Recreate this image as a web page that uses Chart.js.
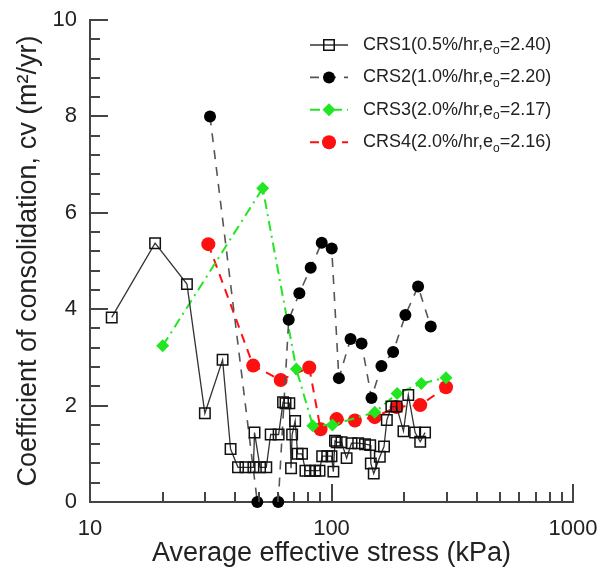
<!DOCTYPE html>
<html lang="en">
  <head>
    <meta charset="utf-8" />
    <title>Coefficient of consolidation vs average effective stress</title>
    <style>
      * {
        margin: 0;
        padding: 0;
      }
      body {
        background: #fff;
      }
      .chartBox {
        width: 602px;
        height: 571px;
      }
    </style>
  </head>
  <body>
    <div class="chartBox">
      <canvas id="myChart" width="602" height="571"></canvas>
    </div>
    <script src="https://cdn.jsdelivr.net/npm/chart.js"></script>
    <script>
      // data (stress in kPa, cv in m2/yr)
      const crs1Stress = [12.3, 18.6, 25.2, 29.9, 35.4, 38.2, 41.0, 44.0, 47.5, 48.0, 50.6, 53.7, 56.0, 60.4, 63.0, 64.5, 66.9, 68.0, 68.7, 70.7, 72.4, 75.5, 78.0, 81.5, 85.6, 89.2, 91.5, 96.0, 100, 101.8, 103.4, 105, 110, 115.5, 121, 129, 137.6, 144.6, 145.5, 149.6, 158.5, 165, 169.5, 177, 186, 198.6, 208, 222, 233, 244];
      const crs1Cv = [3.83, 5.37, 4.52, 1.84, 2.95, 1.10, 0.72, 0.72, 0.72, 1.44, 0.72, 0.72, 1.40, 1.40, 2.07, 2.05, 2.05, 0.70, 1.40, 1.68, 1.00, 1.00, 0.65, 0.65, 0.65, 0.65, 0.95, 0.95, 0.95, 0.63, 1.27, 1.24, 1.24, 0.91, 1.22, 1.22, 1.20, 1.18, 0.80, 0.59, 0.94, 1.15, 1.70, 1.98, 1.98, 1.47, 2.22, 1.44, 1.25, 1.44];

      const crs2Stress = [31.4, 49.3, 60.2, 66.5, 73.6, 82.0, 91.1, 100.2, 107.3, 119.9, 133.2, 146.4, 161, 180, 202.3, 228.3, 257.6];
      const crs2Cv = [8.0, 0, 0, 3.78, 4.33, 4.86, 5.38, 5.26, 2.57, 3.38, 3.29, 2.16, 2.82, 3.11, 3.88, 4.47, 3.64];

      const crs3Stress = [20.0, 51.9, 71.5, 83.7, 100.9, 151, 187, 235.5, 298];
      const crs3Cv = [3.24, 6.51, 2.76, 1.58, 1.60, 1.86, 2.25, 2.46, 2.58];

      const crs4Stress = [30.9, 47.4, 61.6, 80.9, 90.1, 105, 125, 151, 186, 233, 298];
      const crs4Cv = [5.35, 2.83, 2.53, 2.79, 1.51, 1.72, 1.69, 1.76, 1.97, 2.01, 2.38];

      const seriesNames = ['CRS1', 'CRS2', 'CRS3', 'CRS4'];
      const rates = ['0.5%/hr', '1.0%/hr', '2.0%/hr', '2.0%/hr'];
      const e0 = ['2.40', '2.20', '2.17', '2.16'];

      const FONT = '"Liberation Sans", Arial, sans-serif';

      const pts = (xs, ys) => xs.map((x, i) => ({ x, y: ys[i] }));

      // tick values: 10..90, 100..900, 1000 and 0..10 every 0.4
      const xTickValues = [];
      for (let d = 10; d < 1000; d *= 10) {
        for (let m = 1; m <= 9; m++) xTickValues.push(m * d);
      }
      xTickValues.push(1000);
      const yTickValues = [];
      for (let i = 0; i <= 25; i++) yTickValues.push(+(i * 0.4).toFixed(1));

      const isDecade = (v) => Math.abs(Math.log10(v) - Math.round(Math.log10(v))) < 1e-9;
      const isEven = (v) => Math.abs(v / 2 - Math.round(v / 2)) < 1e-9;

      const data = {
        datasets: [
          {
            label: 'CRS1(0.5%/hr,eo=2.40)',
            data: pts(crs1Stress, crs1Cv),
            borderColor: '#333',
            borderWidth: 1.3,
            pointStyle: 'rect',
            pointRadius: 7.4,
            pointBorderColor: '#111',
            pointBorderWidth: 1.5,
            pointBackgroundColor: 'rgba(0,0,0,0)',
          },
          {
            label: 'CRS2(1.0%/hr,eo=2.20)',
            data: pts(crs2Stress, crs2Cv),
            borderColor: '#555',
            borderWidth: 1.6,
            borderDash: [9, 8],
            pointStyle: 'circle',
            pointRadius: 6,
            pointBorderWidth: 0,
            pointBackgroundColor: '#000',
          },
          {
            label: 'CRS3(2.0%/hr,eo=2.17)',
            data: pts(crs3Stress, crs3Cv),
            borderColor: '#22e622',
            borderWidth: 2,
            borderDash: [10, 5, 2, 5],
            pointStyle: 'rectRot',
            pointRadius: 6.5,
            pointBorderWidth: 0,
            pointBackgroundColor: '#22e622',
          },
          {
            label: 'CRS4(2.0%/hr,eo=2.16)',
            data: pts(crs4Stress, crs4Cv),
            borderColor: '#ff1010',
            borderWidth: 2,
            borderDash: [9, 7],
            pointStyle: 'circle',
            pointRadius: 7,
            pointBorderWidth: 0,
            pointBackgroundColor: '#ff1010',
          },
        ],
      };

      // inward tick marks on both axes
      const inwardTicks = {
        id: 'inwardTicks',
        afterDraw(chart) {
          const ctx = chart.ctx;
          const a = chart.chartArea;
          const xs = chart.scales.x;
          const ys = chart.scales.y;
          ctx.save();
          ctx.setLineDash([]);
          ctx.strokeStyle = '#444';
          ctx.lineWidth = 2;
          for (const v of xTickValues) {
            const px = Math.round(xs.getPixelForValue(v));
            const len = isDecade(v) ? 18 : 10;
            ctx.beginPath();
            ctx.moveTo(px, a.bottom);
            ctx.lineTo(px, a.bottom - len);
            ctx.stroke();
          }
          for (const v of yTickValues) {
            const py = Math.round(ys.getPixelForValue(v));
            const len = isEven(v) ? 18 : 10;
            ctx.beginPath();
            ctx.moveTo(a.left, py);
            ctx.lineTo(a.left + len, py);
            ctx.stroke();
          }
          ctx.restore();
        },
      };

      function drawMarker(ctx, ds, x, y) {
        const r = ds.pointRadius;
        ctx.beginPath();
        if (ds.pointStyle === 'rect') {
          const s = r * Math.SQRT1_2;
          ctx.rect(x - s, y - s, 2 * s, 2 * s);
          ctx.lineWidth = ds.pointBorderWidth;
          ctx.strokeStyle = ds.pointBorderColor;
          ctx.setLineDash([]);
          ctx.stroke();
          return;
        }
        if (ds.pointStyle === 'rectRot') {
          ctx.moveTo(x, y - r);
          ctx.lineTo(x + r, y);
          ctx.lineTo(x, y + r);
          ctx.lineTo(x - r, y);
          ctx.closePath();
        } else {
          ctx.arc(x, y, r, 0, Math.PI * 2);
        }
        ctx.fillStyle = ds.pointBackgroundColor;
        ctx.fill();
      }

      // legend with subscript e_o
      const subLegend = {
        id: 'subLegend',
        afterDatasetsDraw(chart) {
          const { ctx, chartArea: a } = chart;
          ctx.save();
          chart.data.datasets.forEach((ds, i) => {
            const ty = a.top + 25 + i * 32.4;
            ctx.beginPath();
            ctx.setLineDash(ds.borderDash || []);
            ctx.strokeStyle = ds.borderColor;
            ctx.lineWidth = ds.borderWidth;
            ctx.moveTo(a.left + 220, ty);
            ctx.lineTo(a.left + 258, ty);
            ctx.stroke();
            ctx.setLineDash([]);
            drawMarker(ctx, ds, a.left + 239, ty);

            let tx = a.left + 273;
            ctx.fillStyle = '#222';
            ctx.textBaseline = 'middle';
            ctx.font = '18px ' + FONT;
            const head = seriesNames[i] + '(' + rates[i] + ',e';
            ctx.fillText(head, tx, ty);
            tx += ctx.measureText(head).width;
            ctx.font = '12px ' + FONT;
            ctx.fillText('o', tx, ty + 6);
            tx += ctx.measureText('o').width;
            ctx.font = '18px ' + FONT;
            ctx.fillText('=' + e0[i] + ')', tx, ty);
          });
          ctx.restore();
        },
      };

      const config = {
        type: 'scatter',
        data,
        options: {
          responsive: false,
          animation: false,
          devicePixelRatio: 1,
          showLine: true,
          clip: false,
          layout: { padding: { left: 0, top: 20, right: 29, bottom: 0 } },
          plugins: {
            legend: { display: false },
            tooltip: { enabled: false },
          },
          scales: {
            x: {
              type: 'logarithmic',
              min: 10,
              max: 1000,
              afterBuildTicks: (scale) => {
                scale.ticks = xTickValues.map((v) => ({ value: v }));
              },
              afterFit: (scale) => {
                scale.height = 69;
                scale.paddingLeft = 0;
                scale.paddingRight = 0;
              },
              grid: { display: false, drawTicks: false },
              border: { display: true, color: '#444', width: 2 },
              ticks: {
                autoSkip: false,
                maxRotation: 0,
                padding: 14,
                color: '#222',
                font: { family: FONT, size: 22 },
                callback: (v) => (isDecade(v) ? String(Math.round(v)) : ''),
              },
              title: {
                display: true,
                text: 'Average effective stress (kPa)',
                color: '#222',
                font: { family: FONT, size: 27 },
                padding: { top: 0, bottom: 1 },
              },
            },
            y: {
              min: 0,
              max: 10,
              afterBuildTicks: (scale) => {
                scale.ticks = yTickValues.map((v) => ({ value: v }));
              },
              afterFit: (scale) => {
                scale.width = 90;
                scale.paddingTop = 0;
                scale.paddingBottom = 0;
              },
              grid: { display: false, drawTicks: false },
              border: { display: true, color: '#444', width: 2 },
              ticks: {
                autoSkip: false,
                padding: 13,
                color: '#222',
                font: { family: FONT, size: 22 },
                callback: (v) => (isEven(v) ? String(Math.round(v)) : ''),
              },
              title: {
                display: true,
                text: 'Coefficient of consolidation, cv (m\u00b2/yr)',
                color: '#222',
                font: { family: FONT, size: 27 },
                padding: { top: 12, bottom: 0 },
              },
            },
          },
        },
        plugins: [inwardTicks, subLegend],
      };

      const myChart = new Chart(document.getElementById('myChart'), config);
    </script>
  </body>
</html>
